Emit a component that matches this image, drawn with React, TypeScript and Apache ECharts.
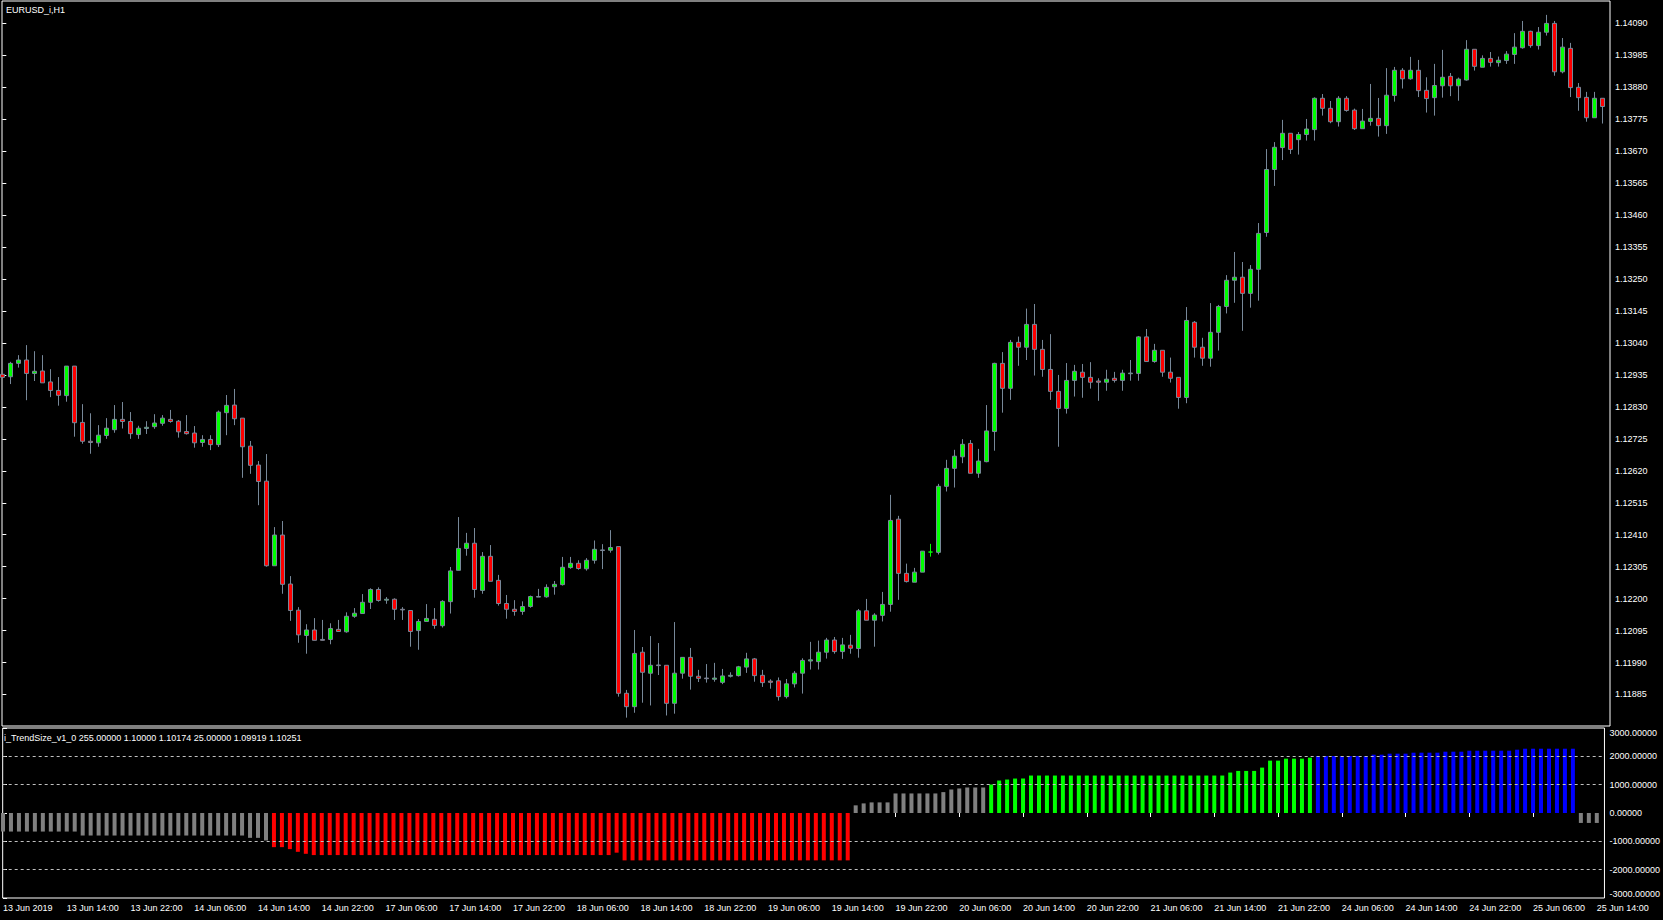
import React, { useEffect, useRef } from "react";
import * as echarts from "echarts";

// ---- Data (EURUSD_i, H1) : bar index 0 = 13 Jun 2019 06:00 ----
const opens = [
  1.12937, 1.12929, 1.12973, 1.12984, 1.12940, 1.12948, 1.12912, 1.12884, 1.12867, 1.12964,
  1.12779, 1.12717, 1.12712, 1.12736, 1.12755, 1.12789, 1.12782, 1.12739, 1.12759, 1.12765,
  1.12776, 1.12789, 1.12783, 1.12749, 1.12744, 1.12713, 1.12723, 1.12706, 1.12811, 1.12836,
  1.12793, 1.12701, 1.12639, 1.12586, 1.12308, 1.12409, 1.12248, 1.12162, 1.12079, 1.12097,
  1.12066, 1.12066, 1.12099, 1.12091, 1.12142, 1.12151, 1.12188, 1.12230, 1.12195, 1.12198,
  1.12165, 1.12161, 1.12095, 1.12125, 1.12132, 1.12111, 1.12190, 1.12293, 1.12365, 1.12382,
  1.12227, 1.12339, 1.12260, 1.12184, 1.12165, 1.12158, 1.12174, 1.12205, 1.12206, 1.12239,
  1.12246, 1.12302, 1.12316, 1.12298, 1.12326, 1.12360, 1.12359, 1.12371, 1.11889, 1.11845,
  1.12024, 1.11955, 1.11982, 1.11981, 1.11856, 1.11955, 1.12007, 1.11945, 1.11939, 1.11935,
  1.11925, 1.11945, 1.11947, 1.11975, 1.12002, 1.11948, 1.11929, 1.11930, 1.11878, 1.11920,
  1.11955, 1.11995, 1.11993, 1.12024, 1.12064, 1.12026, 1.12047, 1.12036, 1.12160, 1.12129,
  1.12145, 1.12181, 1.12461, 1.12283, 1.12254, 1.12287, 1.12353, 1.12352, 1.12569, 1.12628,
  1.12666, 1.12710, 1.12612, 1.12650, 1.12749, 1.12973, 1.12891, 1.13042, 1.13026, 1.13101,
  1.13019, 1.12953, 1.12881, 1.12825, 1.12917, 1.12944, 1.12927, 1.12915, 1.12911, 1.12924,
  1.12917, 1.12939, 1.12940, 1.13060, 1.12979, 1.13016, 1.12944, 1.12927, 1.12861, 1.13108,
  1.13026, 1.12990, 1.13075, 1.13160, 1.13246, 1.13256, 1.13203, 1.13282, 1.13403, 1.13610,
  1.13682, 1.13729, 1.13708, 1.13725, 1.13741, 1.13844, 1.13811, 1.13767, 1.13844, 1.13805,
  1.13744, 1.13768, 1.13778, 1.13754, 1.13853, 1.13936, 1.13908, 1.13936, 1.13870, 1.13846,
  1.13885, 1.13916, 1.13885, 1.13904, 1.14005, 1.13946, 1.13975, 1.13961, 1.13968, 1.13988,
  1.14010, 1.14064, 1.14017, 1.14061, 1.14090, 1.13931, 1.14008, 1.13880, 1.13847, 1.13780,
  1.13844,
];
const closes = [
  1.12927, 1.12973, 1.12984, 1.12940, 1.12947, 1.12909, 1.12884, 1.12868, 1.12964, 1.12778,
  1.12717, 1.12713, 1.12737, 1.12760, 1.12789, 1.12782, 1.12742, 1.12760, 1.12763, 1.12777,
  1.12793, 1.12782, 1.12748, 1.12742, 1.12712, 1.12723, 1.12706, 1.12813, 1.12835, 1.12791,
  1.12699, 1.12638, 1.12585, 1.12308, 1.12409, 1.12247, 1.12161, 1.12081, 1.12097, 1.12063,
  1.12063, 1.12102, 1.12092, 1.12142, 1.12152, 1.12188, 1.12230, 1.12194, 1.12198, 1.12165,
  1.12163, 1.12092, 1.12125, 1.12135, 1.12112, 1.12191, 1.12291, 1.12365, 1.12382, 1.12230,
  1.12339, 1.12257, 1.12184, 1.12165, 1.12158, 1.12174, 1.12207, 1.12207, 1.12237, 1.12247,
  1.12303, 1.12316, 1.12299, 1.12326, 1.12362, 1.12358, 1.12368, 1.11889, 1.11845, 1.12020,
  1.11958, 1.11981, 1.11980, 1.11856, 1.11955, 1.12007, 1.11945, 1.11938, 1.11937, 1.11939,
  1.11946, 1.11948, 1.11976, 1.12002, 1.11947, 1.11924, 1.11925, 1.11878, 1.11920, 1.11955,
  1.11997, 1.11999, 1.12024, 1.12064, 1.12026, 1.12048, 1.12037, 1.12160, 1.12129, 1.12146,
  1.12181, 1.12457, 1.12283, 1.12256, 1.12287, 1.12356, 1.12353, 1.12569, 1.12628, 1.12668,
  1.12707, 1.12612, 1.12652, 1.12751, 1.12973, 1.12891, 1.13042, 1.13026, 1.13101, 1.13019,
  1.12953, 1.12881, 1.12825, 1.12917, 1.12947, 1.12927, 1.12911, 1.12911, 1.12921, 1.12917,
  1.12941, 1.12941, 1.13060, 1.12979, 1.13016, 1.12944, 1.12924, 1.12861, 1.13114, 1.13026,
  1.12990, 1.13075, 1.13160, 1.13246, 1.13256, 1.13203, 1.13282, 1.13400, 1.13610, 1.13683,
  1.13729, 1.13676, 1.13725, 1.13743, 1.13844, 1.13811, 1.13767, 1.13844, 1.13804, 1.13744,
  1.13769, 1.13778, 1.13754, 1.13854, 1.13936, 1.13908, 1.13936, 1.13869, 1.13843, 1.13886,
  1.13913, 1.13885, 1.13907, 1.14005, 1.13949, 1.13975, 1.13962, 1.13969, 1.13989, 1.14012,
  1.14064, 1.14017, 1.14061, 1.14090, 1.13931, 1.14012, 1.13879, 1.13846, 1.13780, 1.13844,
  1.13817,
];
const lows = [
  1.12924, 1.12905, 1.12959, 1.12852, 1.12915, 1.12909, 1.12862, 1.12834, 1.12847, 1.12732,
  1.12709, 1.12676, 1.12699, 1.12725, 1.12745, 1.12759, 1.12725, 1.12725, 1.12741, 1.12758,
  1.12768, 1.12778, 1.12729, 1.12739, 1.12696, 1.12699, 1.12688, 1.12698, 1.12737, 1.12770,
  1.12597, 1.12610, 1.12507, 1.12305, 1.12308, 1.12216, 1.12127, 1.12055, 1.12019, 1.12063,
  1.12062, 1.12050, 1.12092, 1.12088, 1.12137, 1.12151, 1.12166, 1.12190, 1.12183, 1.12130,
  1.12130, 1.12042, 1.12032, 1.12125, 1.12101, 1.12105, 1.12151, 1.12293, 1.12341, 1.12203,
  1.12216, 1.12257, 1.12177, 1.12134, 1.12144, 1.12147, 1.12170, 1.12205, 1.12203, 1.12213,
  1.12243, 1.12298, 1.12295, 1.12292, 1.12315, 1.12297, 1.12351, 1.11878, 1.11809, 1.11825,
  1.11858, 1.11849, 1.11949, 1.11816, 1.11822, 1.11937, 1.11901, 1.11926, 1.11924, 1.11927,
  1.11919, 1.11941, 1.11944, 1.11956, 1.11927, 1.11910, 1.11904, 1.11865, 1.11872, 1.11908,
  1.11888, 1.11967, 1.11967, 1.12003, 1.12019, 1.12002, 1.12019, 1.12006, 1.12129, 1.12042,
  1.12125, 1.12157, 1.12196, 1.12253, 1.12254, 1.12287, 1.12338, 1.12345, 1.12552, 1.12565,
  1.12645, 1.12612, 1.12597, 1.12648, 1.12686, 1.12811, 1.12853, 1.12965, 1.12984, 1.12933,
  1.12929, 1.12853, 1.12699, 1.12808, 1.12864, 1.12860, 1.12890, 1.12850, 1.12883, 1.12910,
  1.12883, 1.12916, 1.12916, 1.12979, 1.12975, 1.12929, 1.12910, 1.12824, 1.12842, 1.12992,
  1.12965, 1.12962, 1.13015, 1.13137, 1.13172, 1.13080, 1.13156, 1.13179, 1.13389, 1.13556,
  1.13641, 1.13661, 1.13659, 1.13705, 1.13705, 1.13787, 1.13762, 1.13751, 1.13800, 1.13740,
  1.13744, 1.13754, 1.13718, 1.13727, 1.13833, 1.13876, 1.13905, 1.13848, 1.13797, 1.13787,
  1.13846, 1.13851, 1.13836, 1.13902, 1.13935, 1.13946, 1.13948, 1.13948, 1.13957, 1.13957,
  1.14007, 1.14010, 1.14004, 1.14050, 1.13918, 1.13926, 1.13848, 1.13803, 1.13767, 1.13780,
  1.13761,
];
const highs = [
  1.12940, 1.12978, 1.13000, 1.13033, 1.13013, 1.13000, 1.12954, 1.12928, 1.12964, 1.12964,
  1.12839, 1.12809, 1.12770, 1.12793, 1.12836, 1.12846, 1.12813, 1.12768, 1.12783, 1.12806,
  1.12803, 1.12820, 1.12787, 1.12803, 1.12767, 1.12737, 1.12737, 1.12818, 1.12869, 1.12889,
  1.12793, 1.12718, 1.12652, 1.12675, 1.12435, 1.12455, 1.12274, 1.12172, 1.12116, 1.12136,
  1.12130, 1.12119, 1.12130, 1.12155, 1.12169, 1.12215, 1.12234, 1.12237, 1.12205, 1.12201,
  1.12172, 1.12161, 1.12133, 1.12182, 1.12169, 1.12195, 1.12304, 1.12468, 1.12416, 1.12432,
  1.12353, 1.12376, 1.12278, 1.12212, 1.12195, 1.12191, 1.12210, 1.12232, 1.12247, 1.12258,
  1.12337, 1.12337, 1.12326, 1.12333, 1.12391, 1.12379, 1.12425, 1.12371, 1.11900, 1.12097,
  1.12041, 1.12077, 1.12054, 1.11981, 1.12123, 1.12007, 1.12038, 1.11966, 1.11985, 1.11989,
  1.11969, 1.11958, 1.11979, 1.12022, 1.12005, 1.11966, 1.11935, 1.11941, 1.11936, 1.11962,
  1.12004, 1.12058, 1.12062, 1.12071, 1.12074, 1.12071, 1.12081, 1.12166, 1.12199, 1.12152,
  1.12222, 1.12541, 1.12472, 1.12315, 1.12301, 1.12356, 1.12380, 1.12577, 1.12656, 1.12689,
  1.12724, 1.12721, 1.12692, 1.12836, 1.12975, 1.13010, 1.13050, 1.13061, 1.13153, 1.13168,
  1.13050, 1.13069, 1.12935, 1.12974, 1.12968, 1.12971, 1.12977, 1.12924, 1.12952, 1.12945,
  1.12952, 1.12984, 1.13063, 1.13086, 1.13037, 1.13016, 1.12992, 1.12927, 1.13158, 1.13112,
  1.13057, 1.13171, 1.13165, 1.13263, 1.13339, 1.13306, 1.13296, 1.13434, 1.13677, 1.13700,
  1.13773, 1.13729, 1.13733, 1.13776, 1.13847, 1.13858, 1.13835, 1.13851, 1.13851, 1.13810,
  1.13809, 1.13891, 1.13845, 1.13943, 1.13947, 1.13943, 1.13980, 1.13970, 1.13913, 1.13957,
  1.14003, 1.13927, 1.13912, 1.14035, 1.14005, 1.13985, 1.13996, 1.13981, 1.13999, 1.14058,
  1.14098, 1.14066, 1.14078, 1.14118, 1.14098, 1.14042, 1.14026, 1.13894, 1.13865, 1.13865,
  1.13844,
];

// i_TrendSize_v1_0 histogram values, one per bar
const trendValues = [
  -655, -655, -655, -655, -655, -655, -655, -655, -655, -655,
  -795, -795, -795, -795, -795, -795, -795, -795, -795, -795,
  -795, -795, -795, -795, -795, -795, -795, -795, -795, -795,
  -795, -877, -877, -970, -1205, -1205, -1275, -1370, -1440, -1485,
  -1485, -1485, -1485, -1485, -1485, -1485, -1485, -1485, -1485, -1485,
  -1485, -1485, -1485, -1485, -1485, -1485, -1485, -1485, -1485, -1485,
  -1485, -1485, -1485, -1485, -1485, -1485, -1485, -1485, -1485, -1485,
  -1485, -1485, -1485, -1485, -1485, -1485, -1485, -1400, -1672, -1672,
  -1672, -1672, -1672, -1672, -1672, -1672, -1672, -1672, -1672, -1672,
  -1672, -1672, -1672, -1672, -1672, -1672, -1672, -1672, -1672, -1672,
  -1672, -1672, -1672, -1672, -1672, -1672, -1672, 270, 339, 374,
  374, 374, 690, 690, 690, 690, 690, 690, 737, 830,
  866, 900, 900, 900, 1006, 1146, 1181, 1216, 1216, 1322,
  1322, 1322, 1322, 1322, 1322, 1322, 1322, 1322, 1322, 1322,
  1322, 1322, 1322, 1322, 1322, 1322, 1322, 1322, 1322, 1322,
  1322, 1322, 1322, 1322, 1427, 1485, 1485, 1485, 1602, 1848,
  1848, 1918, 1918, 1918, 1953, 2012, 2012, 2012, 2012, 2012,
  2012, 2012, 2058, 2058, 2094, 2094, 2094, 2129, 2129, 2129,
  2129, 2164, 2164, 2164, 2199, 2199, 2199, 2199, 2199, 2199,
  2234, 2269, 2269, 2269, 2269, 2269, 2269, 2269, -351, -351,
  -351,
];
// histogram colour state, as runs of [number of bars, state]
const trendStateRuns: [number, string][] = [
  [34, "flat"], [73, "down"], [17, "flat"], [41, "up"], [33, "strong"], [3, "flat"],
];

const priceTicks = [
  1.11885, 1.1199, 1.12095, 1.122, 1.12305, 1.1241, 1.12515, 1.1262, 1.12725, 1.1283, 1.12935,
  1.1304, 1.13145, 1.1325, 1.13355, 1.1346, 1.13565, 1.1367, 1.13775, 1.1388, 1.13985, 1.1409,
];
const trendTicks = [-3000, -2000, -1000, 0, 1000, 2000, 3000];
const trendLevels = [-2000, -1000, 1000, 2000];
const timeLabelBars = [
  0, 8, 16, 24, 32, 40, 48, 56, 64, 72, 80, 88, 96, 104, 112, 120, 128, 136, 144, 152, 160,
  168, 176, 184, 192, 200,
];
const timeLabels = [
  "13 Jun 2019", "13 Jun 14:00", "13 Jun 22:00", "14 Jun 06:00", "14 Jun 14:00", "14 Jun 22:00",
  "17 Jun 06:00", "17 Jun 14:00", "17 Jun 22:00", "18 Jun 06:00", "18 Jun 14:00", "18 Jun 22:00",
  "19 Jun 06:00", "19 Jun 14:00", "19 Jun 22:00", "20 Jun 06:00", "20 Jun 14:00", "20 Jun 22:00",
  "21 Jun 06:00", "21 Jun 14:00", "21 Jun 22:00", "24 Jun 06:00", "24 Jun 14:00", "24 Jun 22:00",
  "25 Jun 06:00", "25 Jun 14:00",
];
const chartTitle = "EURUSD_i,H1";
const indicatorTitle =
  "i_TrendSize_v1_0 255.00000 1.10000 1.10174 25.00000 1.09919 1.10251";

// ---- styles ----
const stateColor: Record<string, string> = {
  flat: "#808080",
  down: "#ff0000",
  up: "#00ff00",
  strong: "#0000ff",
};
const FONT = '"Liberation Sans", Arial, sans-serif';

export default function App() {
  const ref = useRef<HTMLDivElement>(null);

  useEffect(() => {
    document.body.style.margin = "0";
    document.body.style.background = "#000";
    const chart = echarts.init(ref.current!, null, { renderer: "svg" });

    const states: string[] = [];
    trendStateRuns.forEach(([n, s]) => {
      for (let k = 0; k < n; k++) states.push(s);
    });

    const candleData = opens.map((o, i) => [i, o, closes[i], lows[i], highs[i]]);
    const barData = trendValues.map((v, i) => ({
      value: [i, v],
      itemStyle: { color: stateColor[states[i]] },
    }));

    const xMin = -0.04;
    const xMax = xMin + opens.length;
    const yMin = 1.117815;
    const yMax = 1.141636;

    const labelStyle = { color: "#ffffff", fontSize: 9, fontFamily: FONT };

    chart.setOption({
      animation: false,
      backgroundColor: "#000000",
      grid: [
        { left: 2, top: 1, width: 1608, height: 725, show: true, borderColor: "#ffffff", borderWidth: 1, backgroundColor: "transparent" },
        { left: 2, top: 728, width: 1608, height: 170, show: true, borderColor: "#ffffff", borderWidth: 1, backgroundColor: "transparent" },
      ],
      xAxis: [
        {
          type: "value", gridIndex: 0, min: xMin, max: xMax,
          axisLine: { show: false }, axisTick: { show: false }, axisLabel: { show: false }, splitLine: { show: false },
        },
        {
          type: "value", gridIndex: 1, min: xMin, max: xMax, position: "bottom",
          axisLine: { show: false }, splitLine: { show: false },
          axisTick: { show: true, length: 4, customValues: timeLabelBars.slice(1), lineStyle: { color: "#ffffff", width: 1 } },
          axisLabel: {
            ...labelStyle, margin: 5, align: "left",
            customValues: timeLabelBars,
            formatter: (v: number) => {
              const k = timeLabelBars.indexOf(Math.round(v));
              return k >= 0 ? timeLabels[k] : "";
            },
          },
        },
      ],
      yAxis: [
        {
          type: "value", gridIndex: 0, position: "right", min: yMin, max: yMax,
          axisLine: { show: false }, splitLine: { show: false },
          axisTick: { show: true, length: 4, customValues: priceTicks, lineStyle: { color: "#ffffff" } },
          axisLabel: { ...labelStyle, margin: 5, customValues: priceTicks, formatter: (v: number) => v.toFixed(5) },
        },
        {
          type: "value", gridIndex: 1, position: "right", min: -3000, max: 3000,
          axisLine: { show: false }, splitLine: { show: false },
          axisTick: { show: true, length: 4, customValues: trendTicks, lineStyle: { color: "#ffffff" } },
          axisLabel: {
            ...labelStyle, margin: 5, customValues: trendTicks,
            verticalAlignMaxLabel: "top", verticalAlignMinLabel: "bottom",
            formatter: (v: number) => v.toFixed(5),
          },
        },
      ],
      graphic: [
        { type: "text", left: 6, top: 5, style: { text: chartTitle, fill: "#ffffff", font: `9px ${FONT}` } },
        { type: "text", left: 4, top: 733, style: { text: indicatorTitle, fill: "#ffffff", font: `9px ${FONT}` } },
      ],
      series: [
        {
          type: "candlestick", xAxisIndex: 0, yAxisIndex: 0,
          data: candleData,
          barWidth: 4,
          clip: true,
          itemStyle: {
            color: "#00ff00", color0: "#ff0000",
            borderColor: "#778899", borderColor0: "#778899", borderColorDoji: "#00ff00",
            borderWidth: 1,
          },
        },
        {
          type: "bar", xAxisIndex: 1, yAxisIndex: 1,
          data: barData,
          barWidth: 4,
          markLine: {
            silent: true, symbol: "none", label: { show: false },
            lineStyle: { color: "#c0c0c0", type: [3, 3], width: 1 },
            data: trendLevels.map((v) => ({ yAxis: v })),
          },
        },
      ],
    });

    return () => chart.dispose();
  }, []);

  return (
    <div
      ref={ref}
      style={{ position: "fixed", left: 0, top: 0, width: 1663, height: 920, background: "#000" }}
    />
  );
}
